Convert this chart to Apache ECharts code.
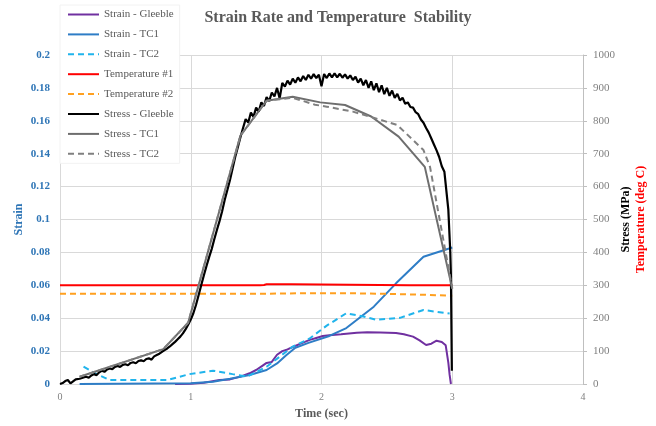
<!DOCTYPE html>
<html>
<head>
<meta charset="utf-8">
<script src="https://cdn.jsdelivr.net/npm/echarts@6/dist/echarts.min.js"></script>
<style>
  html, body { margin: 0; padding: 0; background: #fff; }
  #chart { width: 656px; height: 426px; }
</style>
</head>
<body>
<div id="chart"></div>
<script>
// Time axis ticks (sec), strain axis ticks and stress/temperature axis ticks
const timeTicks = [0, 1, 2, 3, 4];
const strainTicks = [0, 0.02, 0.04, 0.06, 0.08, 0.1, 0.12, 0.14, 0.16, 0.18, 0.2];
const stressTicks = [0, 100, 200, 300, 400, 500, 600, 700, 800, 900, 1000];

// Strain measurements [time (sec), strain]
const strainGleeble = [
  [0.88, 0], [1.0, 0.0002], [1.1, 0.0008], [1.22, 0.0024], [1.30, 0.0028], [1.38, 0.0045],
  [1.45, 0.0065], [1.50, 0.0085], [1.55, 0.0112], [1.58, 0.0128], [1.62, 0.0134], [1.66, 0.0178],
  [1.70, 0.0200], [1.74, 0.0210], [1.78, 0.0225], [1.84, 0.0245], [1.91, 0.0268], [1.96, 0.0280],
  [2.01, 0.0292], [2.06, 0.0296], [2.15, 0.0302], [2.27, 0.0312], [2.35, 0.0314], [2.45, 0.0313],
  [2.57, 0.0310], [2.63, 0.0302], [2.70, 0.0288], [2.75, 0.0265], [2.80, 0.0237], [2.84, 0.0245],
  [2.88, 0.0263], [2.92, 0.0255], [2.95, 0.0235], [2.97, 0.0130], [2.98, 0.0055], [2.99, 0]
];
const strainTC1 = [
  [0.15, 0], [1.0, 0.0005], [1.17, 0.0014], [1.30, 0.0032], [1.45, 0.0055], [1.58, 0.0085],
  [1.66, 0.0125], [1.73, 0.0175], [1.80, 0.0220], [1.90, 0.0250], [2.06, 0.0292], [2.19, 0.0340],
  [2.40, 0.0470], [2.57, 0.0612], [2.78, 0.0774], [3.0, 0.0830]
];
const strainTC2 = [
  [0.18, 0.0105], [0.28, 0.0060], [0.38, 0.0024], [0.82, 0.0024], [0.99, 0.0060], [1.17, 0.0081],
  [1.32, 0.0060], [1.43, 0.0045], [1.58, 0.0105], [1.78, 0.0227], [1.91, 0.0277], [2.04, 0.0355],
  [2.19, 0.0430], [2.32, 0.0410], [2.42, 0.0390], [2.60, 0.0402], [2.78, 0.0450], [2.98, 0.0428]
];

// Thermocouple readings [time (sec), deg C]
const temperature1 = [
  [0, 300], [1.53, 300], [1.54, 302.5], [1.56, 301], [1.58, 303], [1.77, 303], [1.78, 300],
  [2.67, 300], [2.68, 302], [2.69, 300], [3.0, 300]
];
const temperature2 = [
  [0, 274], [0.5, 274], [1.0, 274], [1.5, 274], [1.9, 276], [2.2, 276], [2.5, 274],
  [2.8, 271], [3.0, 268]
];

// Stress [time (sec), MPa]
const stressGleeble = [
  [0, 0], [0.02, 3], [0.04, 9], [0.06, 12], [0.07, 6], [0.08, 2], [0.10, 8], [0.12, 14],
  [0.15, 16], [0.18, 20], [0.20, 22], [0.22, 19], [0.24, 26], [0.26, 30], [0.28, 27], [0.30, 36],
  [0.32, 40], [0.34, 37], [0.36, 44], [0.38, 47], [0.40, 45], [0.42, 52], [0.44, 55], [0.46, 52],
  [0.48, 58], [0.50, 60], [0.52, 57], [0.54, 64], [0.56, 66], [0.58, 63], [0.60, 70], [0.62, 72],
  [0.64, 69], [0.66, 76], [0.68, 78], [0.70, 74], [0.72, 84], [0.74, 88], [0.76, 92], [0.78, 98],
  [0.80, 103], [0.82, 108], [0.84, 114], [0.86, 121], [0.88, 128], [0.90, 136], [0.92, 144],
  [0.94, 154], [0.96, 166], [0.98, 180], [1.00, 196], [1.02, 215], [1.04, 240], [1.06, 270],
  [1.08, 300], [1.10, 330], [1.12, 358], [1.14, 385], [1.16, 410], [1.18, 440], [1.20, 468],
  [1.22, 495], [1.24, 525], [1.26, 560], [1.28, 590], [1.30, 620], [1.32, 655], [1.34, 690],
  [1.36, 720], [1.38, 750], [1.40, 778], [1.42, 805], [1.44, 795], [1.46, 825], [1.48, 812],
  [1.50, 840], [1.52, 828], [1.54, 856], [1.56, 845], [1.58, 872], [1.60, 860], [1.62, 886],
  [1.64, 874], [1.66, 900], [1.68, 868], [1.70, 915], [1.72, 904], [1.74, 922], [1.76, 910],
  [1.78, 928], [1.80, 916], [1.82, 932], [1.84, 920], [1.86, 936], [1.88, 924], [1.90, 940],
  [1.92, 928], [1.94, 942], [1.96, 930], [1.98, 940], [2.00, 905], [2.02, 942], [2.04, 930],
  [2.06, 944], [2.08, 932], [2.10, 944], [2.12, 932], [2.14, 943], [2.16, 931], [2.18, 941],
  [2.20, 928], [2.22, 938], [2.24, 924], [2.26, 934], [2.28, 916], [2.30, 928], [2.32, 908],
  [2.34, 924], [2.36, 900], [2.38, 920], [2.40, 893], [2.42, 914], [2.44, 887], [2.46, 908],
  [2.48, 881], [2.50, 900], [2.52, 876], [2.54, 892], [2.56, 870], [2.58, 882], [2.60, 862],
  [2.62, 870], [2.64, 852], [2.66, 856], [2.68, 842], [2.70, 840], [2.72, 826], [2.74, 820],
  [2.76, 804], [2.78, 794], [2.80, 778], [2.82, 764], [2.84, 746], [2.86, 728], [2.88, 710],
  [2.90, 690], [2.92, 662], [2.94, 645], [2.95, 640], [2.97, 530], [2.985, 400], [2.99, 330],
  [2.997, 40]
];
const stressTC1 = [
  [0.15, 22], [0.79, 106], [0.98, 186], [1.38, 755], [1.58, 861], [1.78, 873], [1.99, 856],
  [2.18, 848], [2.38, 813], [2.59, 752], [2.79, 660], [3.0, 290]
];
const stressTC2 = [
  [0.15, 22], [0.79, 106], [0.98, 186], [1.38, 755], [1.58, 861], [1.78, 870], [1.95, 849],
  [2.04, 843], [2.24, 828], [2.41, 808], [2.58, 787], [2.78, 711], [2.83, 660], [3.0, 290]
];

const serif = '"Liberation Serif", "Times New Roman", serif';
const grey = '#595959';
const gridGrey = '#d9d9d9';

function line(name, data, color, axis, dashed, width) {
  return {
    name: name,
    type: 'line',
    yAxisIndex: axis,
    data: data,
    symbol: 'none',
    showSymbol: false,
    animation: false,
    lineStyle: { color: color, width: width || 2, type: dashed ? [6, 4] : 'solid' },
    itemStyle: { color: color }
  };
}

const chart = echarts.init(document.getElementById('chart'), null, { renderer: 'canvas' });
chart.setOption({
  backgroundColor: '#ffffff',
  animation: false,
  title: {
    text: 'Strain Rate and Temperature  Stability',
    left: 333,
    textAlign: 'center',
    top: 5,
    textStyle: { fontFamily: serif, fontSize: 16, fontWeight: 'bold', color: grey }
  },
  legend: {
    orient: 'vertical',
    left: 60,
    top: 5,
    padding: [4, 6, 4, 7],
    itemWidth: 31,
    itemHeight: 12,
    itemGap: 8.9,
    backgroundColor: '#ffffff',
    borderColor: '#f2f2f2',
    borderWidth: 1,
    itemStyle: { opacity: 0 },
    textStyle: { fontFamily: serif, fontSize: 11, color: grey },
    data: ['Strain - Gleeble', 'Strain - TC1', 'Strain - TC2', 'Temperature #1',
           'Temperature #2', 'Stress - Gleeble', 'Stress - TC1', 'Stress - TC2']
  },
  grid: { left: 60, right: 73, top: 55, bottom: 42, containLabel: false, outerBoundsMode: 'none' },
  xAxis: {
    type: 'value',
    min: timeTicks[0],
    max: timeTicks[timeTicks.length - 1],
    interval: 1,
    name: 'Time (sec)',
    nameLocation: 'middle',
    nameGap: 24,
    nameMoveOverlap: false,
    nameTextStyle: { fontFamily: serif, fontSize: 12, fontWeight: 'bold', color: grey },
    axisLine: { show: true, lineStyle: { color: gridGrey, width: 1 } },
    axisTick: { show: false },
    axisLabel: { fontFamily: serif, fontSize: 10, color: '#808080', margin: 8 },
    splitLine: { show: true, lineStyle: { color: gridGrey, width: 1 } }
  },
  yAxis: [
    {
      type: 'value',
      min: strainTicks[0],
      max: strainTicks[strainTicks.length - 1],
      interval: 0.02,
      name: 'Strain',
      nameLocation: 'middle',
      nameGap: 35,
      nameMoveOverlap: false,
      nameTextStyle: { fontFamily: serif, fontSize: 12, fontWeight: 'bold', color: '#2e75b6' },
      axisLine: { show: false },
      axisTick: { show: false },
      axisLabel: {
        fontFamily: serif, fontSize: 11, fontWeight: 'bold', color: '#2e75b6', margin: 10,
        formatter: v => String(+v.toFixed(2))
      },
      splitLine: { show: true, lineStyle: { color: gridGrey, width: 1 } }
    },
    {
      type: 'value',
      position: 'right',
      min: stressTicks[0],
      max: stressTicks[stressTicks.length - 1],
      interval: 100,
      name: '{s|Stress (MPa)}\n{t|Temperature (deg C)}',
      nameLocation: 'middle',
      nameGap: 35,
      nameMoveOverlap: false,
      nameTextStyle: {
        rich: {
          s: { fontFamily: serif, fontSize: 12, fontWeight: 'bold', color: '#000000', lineHeight: 15 },
          t: { fontFamily: serif, fontSize: 12, fontWeight: 'bold', color: '#ff0000', lineHeight: 15 }
        }
      },
      axisLine: { show: true, lineStyle: { color: '#bfbfbf', width: 1 } },
      axisTick: { show: true, inside: false, length: 4, lineStyle: { color: '#bfbfbf' } },
      axisLabel: {
        fontFamily: serif, fontSize: 11, color: '#808080', margin: 10,
        formatter: v => String(v)
      },
      splitLine: { show: false }
    }
  ],
  series: [
    line('Strain - Gleeble', strainGleeble, '#7030a0', 0, false),
    line('Strain - TC1', strainTC1, '#2e7dc6', 0, false),
    line('Strain - TC2', strainTC2, '#20b4ec', 0, true),
    line('Temperature #1', temperature1, '#ff0000', 1, false),
    line('Temperature #2', temperature2, '#ffa020', 1, true),
    line('Stress - Gleeble', stressGleeble, '#000000', 1, false, 2.2),
    line('Stress - TC1', stressTC1, '#6e6e6e', 1, false),
    line('Stress - TC2', stressTC2, '#808080', 1, true)
  ]
});
</script>
</body>
</html>
